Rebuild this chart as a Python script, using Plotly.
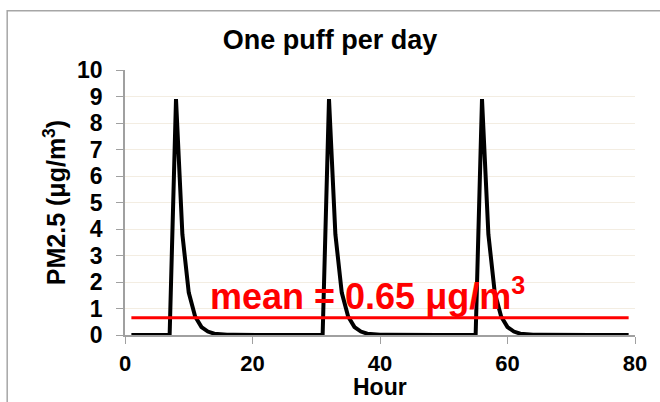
import plotly.graph_objects as go

hours = list(range(1, 80))
pm25 = [
    0, 0, 0, 0, 0, 0, 0,                     # 1-7
    8.9, 3.8, 1.6, 0.7, 0.3, 0.13, 0.05, 0.02, 0.01, 0.005,  # 8-17
    0, 0, 0, 0, 0, 0, 0, 0, 0, 0, 0, 0, 0, 0,  # 18-31
    8.9, 3.8, 1.6, 0.7, 0.3, 0.13, 0.05, 0.02, 0.01, 0.005,  # 32-41
    0, 0, 0, 0, 0, 0, 0, 0, 0, 0, 0, 0, 0, 0,  # 42-55
    8.9, 3.8, 1.6, 0.7, 0.3, 0.13, 0.05, 0.02, 0.01, 0.005,  # 56-65
    0, 0, 0, 0, 0, 0, 0, 0, 0, 0, 0, 0, 0, 0,  # 66-79
]
mean_value = 0.65
mean_x = [1, 79]
title = "One puff per day"
x_title = "Hour"
y_title = "PM2.5 (μg/m<sup>3</sup>)"
mean_label = "mean = 0.65 μg/m<sup>3</sup>"

font = "Liberation Sans, Arial, sans-serif"

fig = go.Figure()
fig.add_trace(go.Scatter(x=hours, y=pm25, mode="lines",
                         line=dict(color="black", width=4), showlegend=False))
fig.add_trace(go.Scatter(x=mean_x, y=[mean_value, mean_value], mode="lines",
                         line=dict(color="#ff0000", width=3), showlegend=False))

fig.add_annotation(x=38.0, y=1.55, xref="x", yref="y", text=mean_label,
                   showarrow=False, font=dict(family=font, size=36, color="#ff0000", weight="bold"))

# x-axis title placed below the tick labels
fig.add_annotation(x=0.5, y=-0.197, xref="paper", yref="paper", text=x_title,
                   showarrow=False, xanchor="center", yanchor="middle",
                   font=dict(family=font, size=23, color="black", weight="bold"))

fig.add_shape(type="rect", xref="paper", yref="paper", x0=-0.231, x1=1.2, y0=-0.4, y1=1.2235,
              line=dict(color="#a6a6a6", width=1.5), fillcolor="rgba(0,0,0,0)", layer="below")

fig.update_layout(
    width=660, height=402,
    margin=dict(l=125, r=25, t=70, b=67),
    paper_bgcolor="white", plot_bgcolor="white",
    title=dict(text=title, x=0.5, xanchor="center", y=1 - 40 / 402, yanchor="middle",
               font=dict(family=font, size=27, color="black", weight="bold")),
    xaxis=dict(range=[0, 80], tickvals=[0, 20, 40, 60, 80], showgrid=False,
               showline=True, linecolor="#a0a0a0", linewidth=1.5, automargin=False,
               ticks="outside", ticklen=7, tickcolor="#a0a0a0", zeroline=False,
               ticklabelstandoff=1,
               tickfont=dict(family=font, size=22, color="black", weight="bold")),
    yaxis=dict(range=[0, 10], dtick=1, showgrid=True, gridcolor="#f3ede2", gridwidth=1,
               showline=True, linecolor="#a0a0a0", linewidth=1.5, automargin=False,
               ticks="outside", ticklen=7, tickcolor="#a0a0a0", zeroline=False,
               ticklabelstandoff=9,
               tickfont=dict(family=font, size=23, color="black", weight="bold"),
               title=dict(text=y_title, standoff=4,
                          font=dict(family=font, size=25, color="black", weight="bold"))),
    font=dict(family=font, color="black"),
)

fig.write_html("out.html")
